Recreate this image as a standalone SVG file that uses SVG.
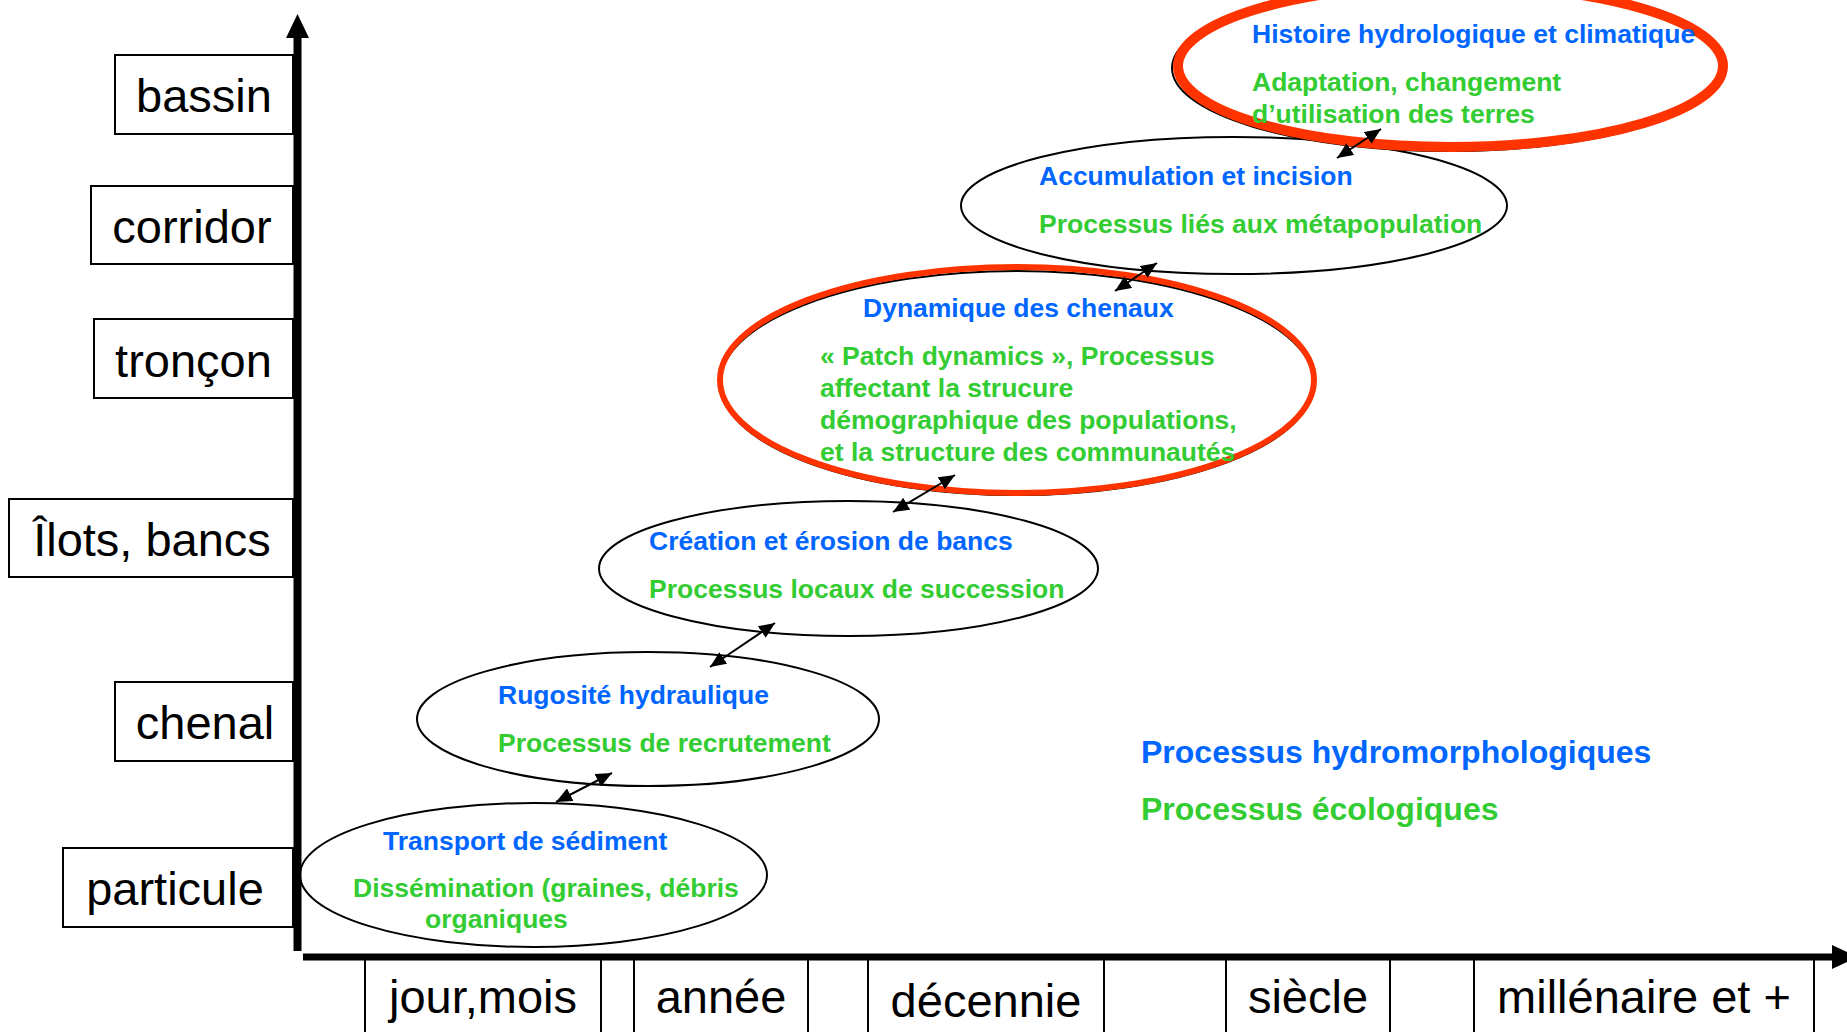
<svg xmlns="http://www.w3.org/2000/svg" width="1847" height="1032" viewBox="0 0 1847 1032">
<style>
  .lbl{font-family:"Liberation Sans",Arial,sans-serif;font-size:47px;fill:#000;text-anchor:middle}
  .box{fill:#fff;stroke:#000;stroke-width:2}
  .ell{fill:none;stroke:#000;stroke-width:2}
  .red{fill:none;stroke:#ff3300}
  .b{font-family:"Liberation Sans",Arial,sans-serif;font-weight:bold;font-size:26.5px;fill:#0066ff}
  .g{font-family:"Liberation Sans",Arial,sans-serif;font-weight:bold;font-size:26.5px;fill:#33cc33}
  .conn{stroke:#000;stroke-width:2;fill:none}
</style>
<defs>
  <marker id="ah" viewBox="0 0 16 14" refX="16" refY="7" markerWidth="16" markerHeight="14" markerUnits="userSpaceOnUse" orient="auto-start-reverse">
    <path d="M0,0 L16,7 L0,14 z" fill="#000"/>
  </marker>
</defs>
<rect width="1847" height="1032" fill="#fff"/>

<g id="y-labels">
  <g id="lbl-bassin"><rect class="box" x="115" y="55" width="178" height="79"/><text class="lbl" x="204" y="112">bassin</text></g>
  <g id="lbl-corridor"><rect class="box" x="91" y="186" width="202" height="78"/><text class="lbl" x="192" y="243">corridor</text></g>
  <g id="lbl-troncon"><rect class="box" x="94" y="319" width="199" height="79"/><text class="lbl" x="193.5" y="377">tronçon</text></g>
  <g id="lbl-ilots"><rect class="box" x="9" y="499" width="284" height="78"/><text class="lbl" x="152" y="556">Îlots, bancs</text></g>
  <g id="lbl-chenal"><rect class="box" x="115" y="682" width="178" height="79"/><text class="lbl" x="205" y="739">chenal</text></g>
  <g id="lbl-particule"><rect class="box" x="63" y="848" width="230" height="79"/><text class="lbl" x="175" y="905">particule</text></g>
</g>

<g id="x-labels">
  <g id="lbl-jour"><rect class="box" x="365" y="957" width="236" height="90"/><text class="lbl" x="483" y="1013">jour,mois</text></g>
  <g id="lbl-annee"><rect class="box" x="634" y="957" width="174" height="90"/><text class="lbl" x="721" y="1013">année</text></g>
  <g id="lbl-decennie"><rect class="box" x="868" y="957" width="236" height="90"/><text class="lbl" x="986" y="1017">décennie</text></g>
  <g id="lbl-siecle"><rect class="box" x="1226" y="957" width="164" height="90"/><text class="lbl" x="1308" y="1013">siècle</text></g>
  <g id="lbl-millenaire"><rect class="box" x="1474" y="957" width="340" height="90"/><text class="lbl" x="1644" y="1013">millénaire et +</text></g>
</g>

<g id="axes">
  <line x1="297.5" y1="951" x2="297.5" y2="35" stroke="#000" stroke-width="8"/>
  <polygon points="297.5,14 309,38 286,38" fill="#000"/>
  <line x1="303" y1="957" x2="1836" y2="957" stroke="#000" stroke-width="7"/>
  <polygon points="1832,945 1858,957 1832,969" fill="#000"/>
</g>

<g id="n-transport">
  <ellipse class="ell" cx="533.5" cy="875" rx="233.5" ry="72"/>
  <text class="b" x="383" y="850">Transport de sédiment</text>
  <text class="g" x="353" y="897">Dissémination (graines, débris</text>
  <text class="g" x="425" y="928">organiques</text>
</g>

<g id="n-rugosite">
  <ellipse class="ell" cx="648" cy="719" rx="231" ry="67"/>
  <text class="b" x="498" y="704">Rugosité hydraulique</text>
  <text class="g" x="498" y="752">Processus de recrutement</text>
</g>

<g id="n-creation">
  <ellipse class="ell" cx="848.5" cy="568.5" rx="249.5" ry="67.5"/>
  <text class="b" x="649" y="550">Création et érosion de bancs</text>
  <text class="g" x="649" y="598">Processus locaux de succession</text>
</g>

<g id="n-dynamique">
  <ellipse class="ell" cx="1017" cy="383" rx="297" ry="112"/>
  <ellipse class="red" cx="1017" cy="380" rx="297" ry="113" stroke-width="6"/>
  <text class="b" x="863" y="317">Dynamique des chenaux</text>
  <text class="g" x="820" y="365">« Patch dynamics », Processus</text>
  <text class="g" x="820" y="397">affectant la strucure</text>
  <text class="g" x="820" y="429">démographique des populations,</text>
  <text class="g" x="820" y="461">et la structure des communautés</text>
</g>

<g id="n-accumulation">
  <ellipse class="ell" cx="1234" cy="205.5" rx="273" ry="68.5"/>
  <text class="b" x="1039" y="185">Accumulation et incision</text>
  <text class="g" x="1039" y="233">Processus liés aux métapopulation</text>
</g>

<g id="n-histoire">
  <ellipse class="ell" cx="1448" cy="68" rx="276" ry="83"/>
  <ellipse class="red" cx="1450.5" cy="66" rx="272.5" ry="81" stroke-width="10"/>
  <text class="b" x="1252" y="43">Histoire hydrologique et climatique</text>
  <text class="g" x="1252" y="91">Adaptation, changement</text>
  <text class="g" x="1252" y="123">d’utilisation des terres</text>
</g>

<g id="legend">
  <text class="b" x="1141" y="763" style="font-size:32px">Processus hydromorphologiques</text>
  <text class="g" x="1141" y="820" style="font-size:32px">Processus écologiques</text>
</g>

<g id="connectors">
  <line class="conn" x1="556" y1="802" x2="612" y2="773" marker-start="url(#ah)" marker-end="url(#ah)"/>
  <line class="conn" x1="710" y1="667" x2="775" y2="623" marker-start="url(#ah)" marker-end="url(#ah)"/>
  <line class="conn" x1="893" y1="512" x2="955" y2="475" marker-start="url(#ah)" marker-end="url(#ah)"/>
  <line class="conn" x1="1115" y1="291" x2="1157" y2="263" marker-start="url(#ah)" marker-end="url(#ah)"/>
  <line class="conn" x1="1337" y1="158" x2="1381" y2="129" marker-start="url(#ah)" marker-end="url(#ah)"/>
</g>
</svg>
